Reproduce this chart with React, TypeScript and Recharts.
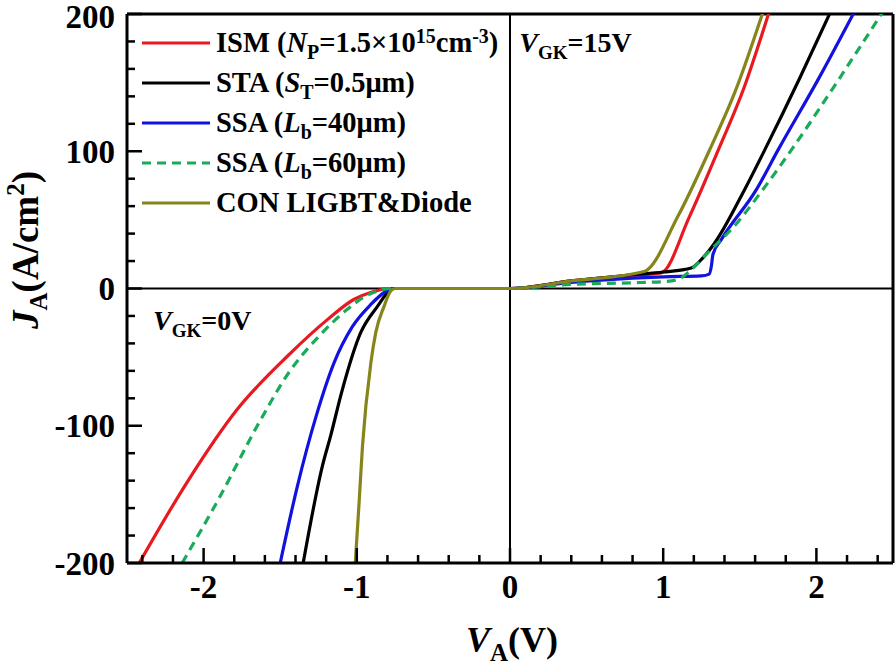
import React from 'react';
import { LineChart, Line, XAxis, YAxis, ReferenceLine, ReferenceDot } from 'recharts';

// [V_A (V), J_A (A/cm2)]
const ismPoints: [number, number][] = [
  [-2.42, -200], [-2.107, -141], [-1.78, -88], [-1.45, -49], [-1.19, -22.5],
  [-1.02, -8], [-0.9, -2.5], [-0.78, 0], [0, 0],
  [0.4, 5.5], [0.8, 9.5], [0.987, 11.4], [1.17, 52], [1.36, 101],
  [1.53, 147], [1.69, 201],
];
const staPoints: [number, number][] = [
  [-1.35, -200], [-1.224, -129], [-1.17, -107], [-1.1, -76], [-0.974, -32],
  [-0.865, -13], [-0.79, -2], [-0.76, 0], [0, 0], [0.4, 5.5], [0.8, 10],
  [1.0, 12], [1.183, 15], [1.259, 22.3], [1.335, 33], [1.531, 72],
  [1.663, 101], [1.89, 153], [2.09, 201],
];
const ssa40Points: [number, number][] = [
  [-1.5, -200], [-1.39, -145], [-1.26, -91], [-1.148, -54], [-1.03, -28],
  [-0.908, -11.6], [-0.81, -2], [-0.77, 0], [0, 0], [0.4, 4.5], [0.8, 7.5],
  [1.0, 8.5], [1.25, 9.2], [1.3, 10.5], [1.314, 16], [1.325, 25],
  [1.379, 35.6], [1.608, 72], [1.75, 101], [2.02, 154], [2.245, 201],
];
const ssa60Points: [number, number][] = [
  [-2.14, -200], [-1.9, -153], [-1.638, -97.7], [-1.442, -61], [-1.246, -34.7],
  [-1.137, -22.5], [-1.06, -15], [-0.95, -6], [-0.85, -1.5], [-0.78, 0],
  [0, 0], [0.4, 3], [0.8, 4.2], [1.0, 5], [1.096, 6.5], [1.172, 12.6],
  [1.29, 26], [1.379, 35.6], [1.444, 43], [1.65, 72], [1.837, 101],
  [2.15, 153], [2.43, 201],
];
const conPoints: [number, number][] = [
  [-1.01, -200], [-0.985, -156], [-0.963, -115], [-0.908, -54], [-0.876, -32],
  [-0.822, -13], [-0.78, -2], [-0.75, 0], [0, 0], [0.4, 5.5], [0.876, 12.4],
  [1.096, 52.6], [1.303, 101], [1.477, 145.6], [1.65, 201],
];

const xTicks = [-2.4, -2.2, -2, -1.8, -1.6, -1.4, -1.2, -1, -0.8, -0.6, -0.4, -0.2, 0,
  0.2, 0.4, 0.6, 0.8, 1, 1.2, 1.4, 1.6, 1.8, 2, 2.2, 2.4];
const yTicks = [-200, -180, -160, -140, -120, -100, -80, -60, -40, -20, 0,
  20, 40, 60, 80, 100, 120, 140, 160, 180, 200];

const toRows = (pts: [number, number][]) => pts.map(([v, j]) => ({ v, j }));

const series = [
  { key: 'ism', data: toRows(ismPoints), color: '#e8191f', dash: undefined },
  { key: 'sta', data: toRows(staPoints), color: '#000000', dash: undefined },
  { key: 'ssa40', data: toRows(ssa40Points), color: '#1212e0', dash: undefined },
  { key: 'ssa60', data: toRows(ssa60Points), color: '#1aab5a', dash: '9 6' },
  { key: 'con', data: toRows(conPoints), color: '#85851a', dash: undefined },
];

const FONT = '"Liberation Serif", "Times New Roman", serif';

const XTick = (props: any) => {
  const { x, y, payload } = props;
  const v = payload.value;
  const major = Math.abs(v - Math.round(v)) < 1e-6;
  return (
    <g>
      <line x1={x} x2={x} y1={y} y2={y - (major ? 15 : 8)} stroke="#000" strokeWidth={2.5} />
      {major && (
        <text x={x} y={y + 35} textAnchor="middle" fontFamily={FONT} fontWeight="bold" fontSize={33} fill="#000">
          {Math.round(v)}
        </text>
      )}
    </g>
  );
};

const YTick = (props: any) => {
  const { x, y, payload } = props;
  const v = payload.value;
  const major = v % 100 === 0;
  // keep the top label inside the picture
  const dy = v === 200 ? 14 : 11.5;
  return (
    <g>
      <line x1={x} x2={x + (major ? 15 : 8)} y1={y} y2={y} stroke="#000" strokeWidth={2.5} />
      {major && (
        <text x={x - 12} y={y + dy} textAnchor="end" fontFamily={FONT} fontWeight="bold" fontSize={33} fill="#000">
          {v}
        </text>
      )}
    </g>
  );
};

const XLabel = (props: any) => {
  const { viewBox } = props;
  const cx = viewBox.x + viewBox.width / 2;
  return (
    <text x={cx + 2} y={viewBox.y + 89} textAnchor="middle" fontFamily={FONT} fontWeight="bold" fontSize={36} fill="#000">
      <tspan fontStyle="italic">V</tspan>
      <tspan fontSize={25} dy={9}>A</tspan>
      <tspan dy={-9}>(V)</tspan>
    </text>
  );
};

const YLabel = () => {
  const cx = 38;
  const cy = 250;
  return (
    <text x={cx} y={cy} transform={`rotate(-90, ${cx}, ${cy})`} textAnchor="middle" fontFamily={FONT} fontWeight="bold" fontSize={37} fill="#000">
      <tspan fontStyle="italic">J</tspan>
      <tspan fontSize={25} dy={9}>A</tspan>
      <tspan dy={-9}>(A/cm</tspan>
      <tspan fontSize={25} dy={-14}>2</tspan>
      <tspan dy={14}>)</tspan>
    </text>
  );
};

const Annot = ({ cx, cy, value }: any) => (
  <text x={cx} y={cy} fontFamily={FONT} fontWeight="bold" fontSize={28} fill="#000">
    <tspan fontStyle="italic">V</tspan>
    <tspan fontSize={19} dy={7}>GK</tspan>
    <tspan dy={-7}>{value}</tspan>
  </text>
);

const Sub = ({ children }: any) => (
  <span style={{ fontSize: '0.7em', position: 'relative', top: '0.35em' }}>{children}</span>
);
const Sup = ({ children }: any) => (
  <span style={{ fontSize: '0.7em', position: 'relative', top: '-0.45em' }}>{children}</span>
);

const legendItems = [
  { color: '#e8191f', dash: false, label: <>ISM (<i>N</i><Sub>P</Sub>=1.5×10<Sup>15</Sup>cm<Sup>-3</Sup>)</> },
  { color: '#000000', dash: false, label: <>STA (<i>S</i><Sub>T</Sub>=0.5μm)</> },
  { color: '#1212e0', dash: false, label: <>SSA (<i>L</i><Sub>b</Sub>=40μm)</> },
  { color: '#1aab5a', dash: true, label: <>SSA (<i>L</i><Sub>b</Sub>=60μm)</> },
  { color: '#85851a', dash: false, label: <>CON LIGBT&amp;Diode</> },
];

export default function App() {
  return (
    <div style={{ position: 'absolute', left: 0, top: 0, width: 896, height: 665, background: '#fff' }}>
      <LineChart width={896} height={665} margin={{ top: 14, right: 3, bottom: 0, left: 0 }}>
        <XAxis
          type="number"
          dataKey="v"
          domain={[-2.5, 2.5]}
          ticks={xTicks}
          interval={0}
          allowDataOverflow
          height={102}
          tickSize={0}
          tickMargin={0}
          tickLine={false}
          tick={<XTick />}
          axisLine={{ stroke: '#000', strokeWidth: 3 }}
          label={<XLabel />}
        />
        <YAxis
          type="number"
          dataKey="j"
          domain={[-200, 200]}
          ticks={yTicks}
          interval={0}
          allowDataOverflow
          width={127}
          tickSize={0}
          tickMargin={0}
          tickLine={false}
          tick={<YTick />}
          axisLine={{ stroke: '#000', strokeWidth: 3 }}
          label={<YLabel />}
        />
        <ReferenceLine y={200} stroke="#000" strokeWidth={3} />
        <ReferenceLine x={2.5} stroke="#000" strokeWidth={3} />
        <ReferenceLine x={0} stroke="#000" strokeWidth={2} />
        <ReferenceLine y={0} stroke="#000" strokeWidth={2} />
        {series.map((s) => (
          <Line
            key={s.key}
            data={s.data}
            dataKey="j"
            type="monotone"
            stroke={s.color}
            strokeWidth={3.2}
            strokeDasharray={s.dash}
            dot={false}
            activeDot={false}
            isAnimationActive={false}
          />
        ))}
        <ReferenceDot x={0.06} y={172} r={1} shape={(p: any) => <Annot cx={p.cx} cy={p.cy} value="=15V" />} />
        <ReferenceDot x={-2.33} y={-30} r={1} shape={(p: any) => <Annot cx={p.cx} cy={p.cy} value="=0V" />} />
      </LineChart>
      <div style={{ position: 'absolute', left: 141, top: 23, fontFamily: FONT, fontWeight: 'bold', fontSize: 28.5, color: '#000' }}>
        {legendItems.map((it, i) => (
          <div key={i} style={{ display: 'flex', alignItems: 'center', height: 40, whiteSpace: 'nowrap' }}>
            <svg width={70} height={8} style={{ marginRight: 5 }}>
              <line x1={1} x2={69} y1={4} y2={4} stroke={it.color} strokeWidth={3.2} strokeDasharray={it.dash ? '9 6' : undefined} />
            </svg>
            <span style={{ lineHeight: 1 }}>{it.label}</span>
          </div>
        ))}
      </div>
    </div>
  );
}
